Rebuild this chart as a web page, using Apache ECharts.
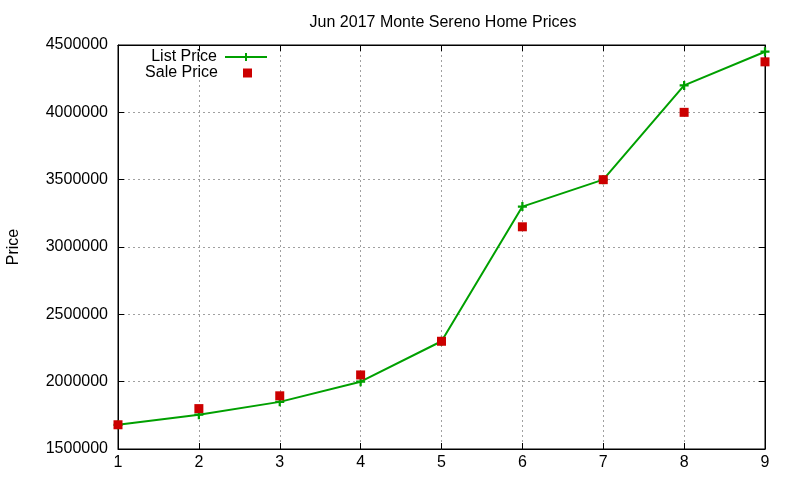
<!DOCTYPE html>
<html>
<head>
<meta charset="utf-8">
<script src="https://cdn.jsdelivr.net/npm/echarts@6/dist/echarts.min.js"></script>
<style>
  html, body { margin: 0; padding: 0; background: #fff; }
  #chart { width: 800px; height: 480px; }
</style>
</head>
<body>
<div id="chart"></div>
<script>
// month index 1..9
const months = [1, 2, 3, 4, 5, 6, 7, 8, 9];
const listPrice = [1680000, 1755000, 1850000, 2000000, 2300000, 3300000, 3500000, 4200000, 4450000];
const salePrice = [1680000, 1800000, 1895000, 2050000, 2300000, 3150000, 3500000, 4000000, 4375000];

const font = 'Liberation Sans, Arial, sans-serif';
const plus = 'path://M3,0H5V3H8V5H5V8H3V5H0V3H3Z';

const chart = echarts.init(document.getElementById('chart'));

const axisTick = { show: true, inside: true, length: 6, lineStyle: { color: '#000' } };
const gridLine = { show: true, lineStyle: { color: '#a0a0a0', type: [2, 3], width: 1 } };

const option = {
  animation: false,
  backgroundColor: '#fff',
  title: {
    text: 'Jun 2017 Monte Sereno Home Prices',
    left: 438,
    textAlign: 'center',
    top: 10,
    textStyle: { fontFamily: font, fontSize: 16, fontWeight: 'normal', color: '#000' },
  },
  legend: [
    {
      data: ['List Price'],
      right: 532,
      top: 49,
      padding: 0,
      align: 'right',
      itemWidth: 42,
      itemHeight: 10,
      itemGap: 0,
      textStyle: { fontFamily: font, fontSize: 16, color: '#000', padding: [0, 3, 0, 0] },
    },
    {
      data: ['Sale Price'],
      right: 548,
      top: 65,
      padding: 0,
      align: 'right',
      itemWidth: 9,
      itemHeight: 9,
      itemGap: 0,
      textStyle: { fontFamily: font, fontSize: 16, color: '#000', padding: [0, 20, 0, 0] },
    },
  ],
  grid: {
    left: 118,
    right: 35,
    top: 45,
    bottom: 31,
    outerBoundsMode: 'none',
    containLabel: false,
    show: true,
    borderColor: '#000',
    borderWidth: 1,
    backgroundColor: 'transparent',
  },
  xAxis: [
    {
      type: 'value',
      min: 1,
      max: 9,
      interval: 1,
      axisLine: { show: true, lineStyle: { color: '#000' } },
      axisTick: axisTick,
      axisLabel: { color: '#000', fontFamily: font, fontSize: 16, margin: 6 },
      splitLine: gridLine,
    },
    {
      type: 'value',
      position: 'top',
      min: 1,
      max: 9,
      interval: 1,
      axisLine: { show: true, lineStyle: { color: '#000' } },
      axisTick: axisTick,
      axisLabel: { show: false },
      splitLine: { show: false },
    },
  ],
  yAxis: [
    {
      type: 'value',
      name: 'Price',
      nameLocation: 'middle',
      nameGap: 96,
      nameTextStyle: { color: '#000', fontFamily: font, fontSize: 16 },
      min: 1500000,
      max: 4500000,
      interval: 500000,
      axisLine: { show: true, lineStyle: { color: '#000' } },
      axisTick: axisTick,
      axisLabel: {
        color: '#000',
        fontFamily: font,
        fontSize: 16,
        margin: 10,
        formatter: (v) => String(v),
      },
      splitLine: gridLine,
    },
    {
      type: 'value',
      position: 'right',
      min: 1500000,
      max: 4500000,
      interval: 500000,
      axisLine: { show: true, lineStyle: { color: '#000' } },
      axisTick: axisTick,
      axisLabel: { show: false },
      splitLine: { show: false },
    },
  ],
  series: [
    {
      name: 'List Price',
      type: 'line',
      data: months.map((m, i) => [m, listPrice[i]]),
      symbol: plus,
      symbolSize: 9,
      showSymbol: true,
      itemStyle: { color: '#00a000', opacity: 1 },
      lineStyle: { color: '#00a000', width: 2 },
      z: 2,
    },
    {
      name: 'Sale Price',
      type: 'scatter',
      data: months.map((m, i) => [m, salePrice[i]]),
      symbol: 'rect',
      symbolSize: 9,
      itemStyle: { color: '#cc0000', opacity: 1 },
      z: 3,
    },
  ],
};

chart.setOption(option);
</script>
</body>
</html>
